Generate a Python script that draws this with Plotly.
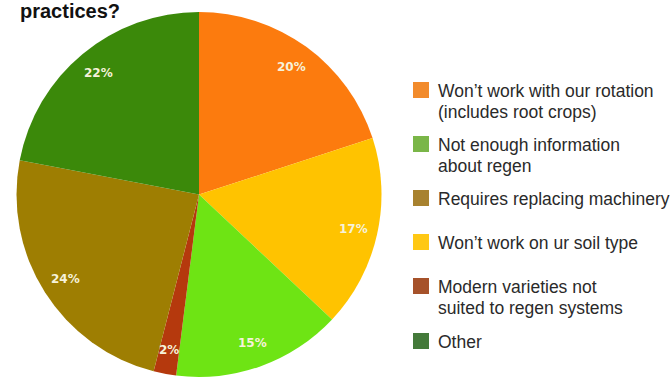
import math
import plotly.graph_objects as go

# Survey answers, listed clockwise from 12 o'clock as they sit in the pie
slice_labels = [
    "Won’t work with our rotation (includes root crops)",
    "Won’t work on ur soil type",
    "Not enough information about regen",
    "Modern varieties not suited to regen systems",
    "Requires replacing machinery",
    "Other",
]
slice_values = [20, 17, 15, 2, 24, 22]
slice_colors = ["#FC7B0E", "#FFC300", "#6EE414", "#B5390D", "#9E7E02", "#3B890A"]

# Key entries, in the order they are listed beside the pie
key_lines = [
    ["Won’t work with our rotation", "(includes root crops)"],
    ["Not enough information", "about regen"],
    ["Requires replacing machinery"],
    ["Won’t work on ur soil type"],
    ["Modern varieties not", "suited to regen systems"],
    ["Other"],
]
key_colors = ["#F28B2C", "#7AB648", "#A8822F", "#FFC814", "#A6522A", "#447A3A"]

W, H = 670, 381


def px(x):
    return x / W


def py(y):
    return 1 - y / H


# pie placement in pixels
cx, cy, R = 199.0, 194.5, 182.5

fig = go.Figure()
fig.add_trace(
    go.Pie(
        labels=slice_labels,
        values=slice_values,
        marker=dict(colors=slice_colors, line=dict(width=0)),
        sort=False,
        direction="clockwise",
        rotation=0,
        textinfo="none",
        hoverinfo="label+percent",
        showlegend=False,
        domain=dict(x=[px(cx - R), px(cx + R)], y=[py(cy + R), py(cy - R)]),
    )
)

annotations = []
shapes = []

# percentage labels placed along each slice's mid angle
total = sum(slice_values)
cum = 0.0
for v in slice_values:
    mid = (cum + v / 2) / total * 2 * math.pi
    cum += v
    r = 0.865 * R
    lx = cx + r * math.sin(mid)
    ly = cy - r * math.cos(mid)
    annotations.append(
        dict(
            x=px(lx), y=py(ly), xref="paper", yref="paper",
            text=f"<b>{round(v / total * 100)}%</b>",
            showarrow=False, xanchor="center", yanchor="middle",
            font=dict(family="DejaVu Sans", size=12, color="#F6F2DA"),
        )
    )

# title fragment at the top left
annotations.append(
    dict(
        x=px(18), y=py(11), xref="paper", yref="paper",
        text="<b>practices?</b>", showarrow=False,
        xanchor="left", yanchor="middle",
        font=dict(family="Liberation Sans, Arial", size=20, color="#111111"),
    )
)

# key: coloured squares with wrapped descriptions
key_y = [90, 144, 198, 242, 286, 341]
for lines, col, y0 in zip(key_lines, key_colors, key_y):
    shapes.append(
        dict(
            type="rect", xref="paper", yref="paper",
            x0=px(413), x1=px(429), y0=py(y0 + 8), y1=py(y0 - 8),
            fillcolor=col, line=dict(width=0),
        )
    )
    for i, t in enumerate(lines):
        annotations.append(
            dict(
                x=px(436), y=py(y0 + 1 + i * 20.5), xref="paper", yref="paper",
                text=t, showarrow=False, xanchor="left", yanchor="middle",
                font=dict(family="Liberation Sans, Arial", size=17.5, color="#2A2A2A"),
            )
        )

fig.update_layout(
    width=W,
    height=H,
    margin=dict(l=0, r=0, t=0, b=0),
    paper_bgcolor="white",
    plot_bgcolor="white",
    annotations=annotations,
    shapes=shapes,
)

fig.write_html("out.html")
